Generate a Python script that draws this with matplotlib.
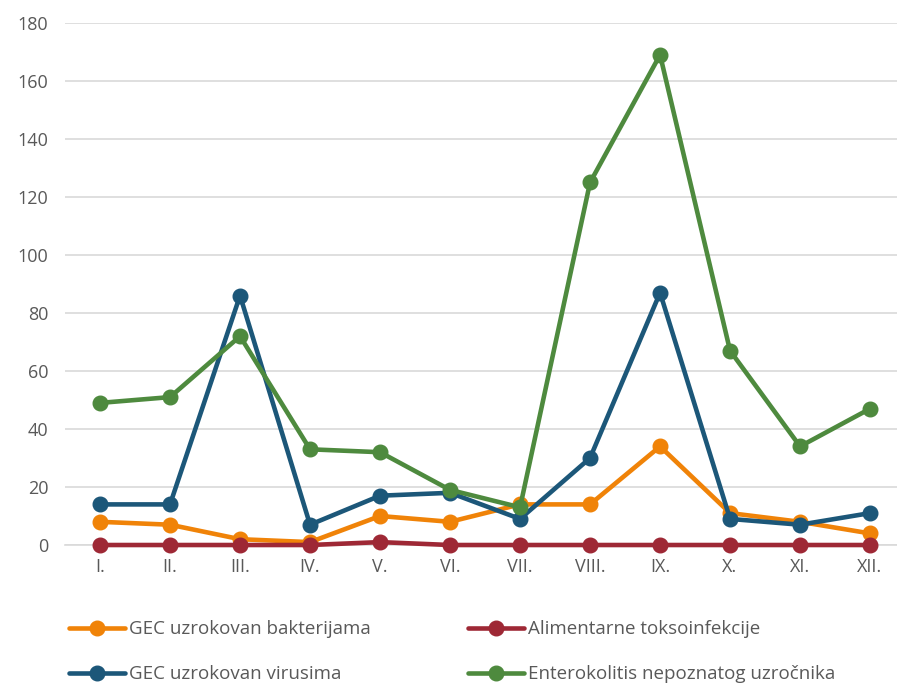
import matplotlib.pyplot as plt
from matplotlib.lines import Line2D

plt.rcParams['font.family'] = ['Open Sans', 'DejaVu Sans']

months = ["I.", "II.", "III.", "IV.", "V.", "VI.", "VII.", "VIII.", "IX.", "X.", "XI.", "XII."]
bakterije = [8, 7, 2, 1, 10, 8, 14, 14, 34, 11, 8, 4]
alimentarne = [0, 0, 0, 0, 1, 0, 0, 0, 0, 0, 0, 0]
virusi = [14, 14, 86, 7, 17, 18, 9, 30, 87, 9, 7, 11]
enterokolitis = [49, 51, 72, 33, 32, 19, 13, 125, 169, 67, 34, 47]

series = [
    ("GEC uzrokovan bakterijama", bakterije, "#F08308"),
    ("Alimentarne toksoinfekcije", alimentarne, "#9E2835"),
    ("GEC uzrokovan virusima", virusi, "#1C5779"),
    ("Enterokolitis nepoznatog uzročnika", enterokolitis, "#4E8A3E"),
]

fig = plt.figure(figsize=(8.97, 6.84), dpi=100)
ax = fig.add_axes([0.0725, 0.2032, 0.9365, 0.7632])

x = list(range(len(months)))
handles = {}
for name, vals, col in series:
    ln, = ax.plot(x, vals, color=col, lw=3.3, marker='o', markersize=10.5,
                  solid_capstyle='round', label=name, clip_on=False, zorder=3)
    handles[name] = ln

ax.set_xlim(-0.5, len(months) - 0.5)
ax.set_ylim(0, 180)
ax.set_yticks(range(0, 181, 20))
ax.set_xticks(x)
ax.set_xticklabels(months)
ax.tick_params(axis='both', length=0, labelsize=13, colors='#595959')
ax.tick_params(axis='x', pad=9)
ax.tick_params(axis='y', pad=12)
ax.grid(axis='y', color='#D9D9D9', lw=1.2)
ax.set_axisbelow(True)
for s in ['top', 'right', 'left']:
    ax.spines[s].set_visible(False)
ax.spines['bottom'].set_color('#D9D9D9')
ax.spines['bottom'].set_linewidth(1.2)
ax.spines['bottom'].set_zorder(1)

order = ["GEC uzrokovan bakterijama", "GEC uzrokovan virusima",
         "Alimentarne toksoinfekcije", "Enterokolitis nepoznatog uzročnika"]
fig.legend([handles[n] for n in order], order, ncol=2, frameon=False,
           loc='upper left', bbox_to_anchor=(0.058, 0.118),
           fontsize=13.5, labelcolor='#595959', handlelength=3.0,
           handletextpad=0.2, columnspacing=5.2, labelspacing=1.45)

fig.savefig("out.png", dpi=100)
